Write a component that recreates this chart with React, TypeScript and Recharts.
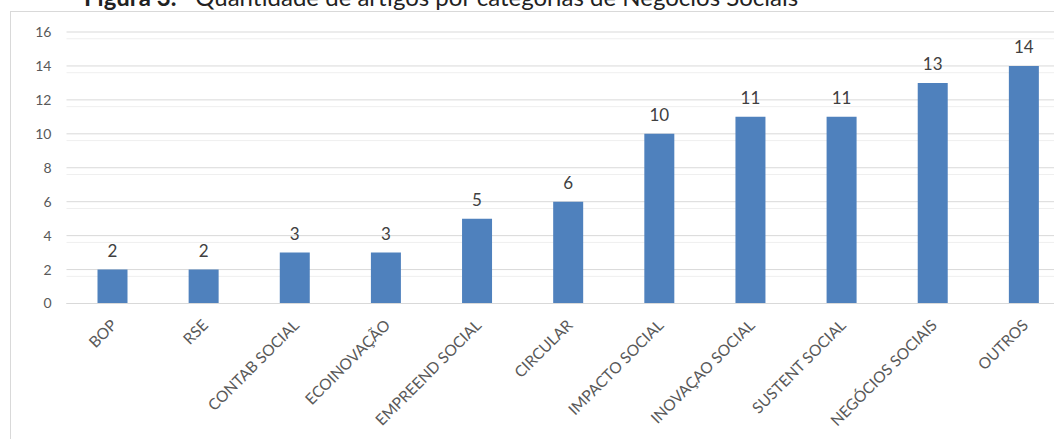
import React from 'react';
import { BarChart, Bar, XAxis, YAxis, CartesianGrid, LabelList } from 'recharts';

const titleBold = 'Figura 3:';
const titleText = 'Quantidade de artigos por categorias de Negócios Sociais';

const categories = [
  'BOP',
  'RSE',
  'CONTAB SOCIAL',
  'ECOINOVAÇÃO',
  'EMPREEND SOCIAL',
  'CIRCULAR',
  'IMPACTO SOCIAL',
  'INOVAÇAO SOCIAL',
  'SUSTENT SOCIAL',
  'NEGÓCIOS SOCIAIS',
  'OUTROS',
];
const values = [2, 2, 3, 3, 5, 6, 10, 11, 11, 13, 14];
const yTicks = [0, 2, 4, 6, 8, 10, 12, 14, 16];

const minorGrid: number[] = [];
for (let i = 0; i <= 40; i++) {
  const v = Math.round(i * 0.4 * 10) / 10;
  if (v % 2 !== 0) minorGrid.push(v);
}

const data = categories.map((c, i) => ({ name: c, value: values[i] }));

const FONT = 'Lato, "Open Sans", sans-serif';

export default function App() {
  return (
    <div
      style={{
        position: 'fixed',
        left: 0,
        top: 0,
        width: 1054,
        height: 439,
        overflow: 'hidden',
        background: '#fff',
      }}
    >
      <div
        style={{
          position: 'absolute',
          left: 10,
          top: 11,
          width: 1100,
          height: 500,
          border: '1px solid #d9d9d9',
          boxSizing: 'border-box',
        }}
      />
      <div
        style={{
          position: 'absolute',
          left: 84,
          top: -15,
          fontFamily: FONT,
          fontSize: 24,
          lineHeight: '24px',
          color: '#222',
          whiteSpace: 'pre',
        }}
      >
        <span style={{ fontWeight: 700 }}>{titleBold}</span>
        <span>{'   ' + titleText}</span>
      </div>
      <div style={{ position: 'absolute', left: 0, top: 0 }}>
        <BarChart
          width={1069}
          height={439}
          data={data}
          margin={{ top: 32, right: 0, bottom: 0, left: 0 }}
          barSize={30}
        >
          <CartesianGrid
            vertical={false}
            horizontalValues={minorGrid}
            stroke="#efefef"
            strokeWidth={1}
          />
          <CartesianGrid
            vertical={false}
            horizontalValues={yTicks}
            stroke="#d9d9d9"
            strokeWidth={1}
          />
          <XAxis
            dataKey="name"
            height={135.5}
            interval={0}
            axisLine={{ stroke: '#d9d9d9' }}
            tickLine={false}
            tickSize={0}
            tickMargin={15}
            angle={-45}
            textAnchor="end"
            tick={{ fill: '#595959', fontSize: 15.5, fontFamily: FONT, dx: -2 }}
          />
          <YAxis
            width={66.5}
            domain={[0, 16]}
            ticks={yTicks}
            axisLine={false}
            tickLine={false}
            tickSize={0}
            tickMargin={15}
            tick={{ fill: '#595959', fontSize: 14, fontFamily: FONT }}
          />
          <Bar dataKey="value" fill="#4f81bd" isAnimationActive={false}>
            <LabelList
              dataKey="value"
              position="top"
              offset={13}
              fill="#404040"
              fontSize={17}
              fontFamily={FONT}
            />
          </Bar>
        </BarChart>
      </div>
    </div>
  );
}
